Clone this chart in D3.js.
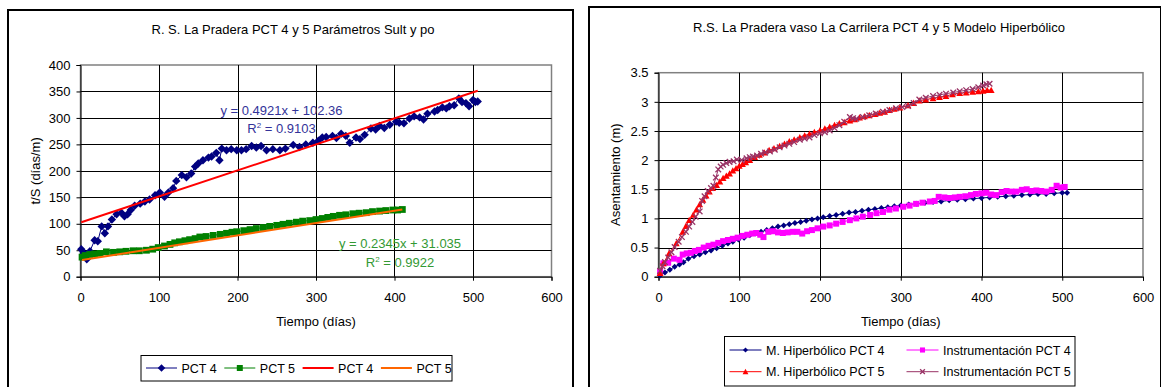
<!DOCTYPE html>
<html>
<head>
<meta charset="utf-8">
<script src="https://cdn.jsdelivr.net/npm/d3@7"></script>
<style>
  body { margin: 0; background: #fff; }
  svg { display: block; font-family: "Liberation Sans", Arial, sans-serif; }
</style>
</head>
<body>
<svg id="chart" width="1161" height="387"></svg>
<script>
// ---- left chart: t/S vs time ----
const daysPct4 = [1, 4, 8, 12, 18, 22, 27, 31, 35, 40, 46, 52, 56, 60, 64, 69, 76, 82, 88, 95,
  101, 107, 112, 118, 122, 129, 135, 141, 146, 150, 156, 163, 167, 173, 177, 180, 186, 192, 199, 205,
  211, 218, 224, 230, 237, 245, 254, 261, 271, 279, 287, 296, 303, 308, 313, 321, 326, 332, 338, 343,
  351, 356, 362, 370, 376, 381, 387, 394, 402, 406, 412, 419, 425, 432, 437, 442, 451, 455, 461, 466,
  470, 476, 482, 486, 491, 495, 500, 503, 506];
const tsPct4 = [52, 45, 33, 48, 69, 67, 95, 82, 95, 108, 118, 121, 114, 118, 126, 134, 138, 142, 146, 154,
  159, 151, 159, 167, 181, 192, 188, 195, 208, 214, 220, 225, 227, 234, 220, 242, 239, 241, 239, 239,
  241, 247, 244, 247, 239, 241, 239, 242, 249, 245, 250, 253, 257, 263, 264, 266, 262, 270, 266, 253,
  263, 260, 268, 280, 278, 285, 281, 287, 293, 291, 290, 299, 303, 301, 297, 308, 312, 315, 320, 318,
  322, 324, 337, 330, 328, 322, 334, 330, 331];

const daysPct5 = [2, 6, 12, 18, 25, 33, 42, 50, 58, 67, 75, 84, 92, 99, 107, 114, 120, 126, 133, 139,
  146, 152, 160, 169, 178, 186, 193, 199, 208, 216, 224, 233, 241, 250, 258, 266, 275, 283, 292, 300,
  308, 315, 322, 330, 338, 347, 355, 364, 372, 381, 389, 398, 404, 410];
const tsPct5 = [37, 40, 42, 43, 44, 47, 46, 47, 48, 49, 49, 50, 52, 55, 58, 61, 64, 66, 68, 70,
  72, 75, 76, 78, 80, 82, 84, 85, 87, 89, 91, 93, 95, 97, 99, 101, 103, 105, 106, 108,
  110, 112, 114, 116, 117, 119, 120, 121, 123, 124, 125, 126, 126, 127];

// linear trend lines as printed on the chart
const trendPct4 = { slope: 0.4921, intercept: 102.36, from: 1, to: 506 };
const trendPct5 = { slope: 0.2345, intercept: 31.035, from: 2, to: 410 };

const xTicks = [0, 100, 200, 300, 400, 500, 600];
const yTicksLeft = [0, 50, 100, 150, 200, 250, 300, 350, 400];

// ---- right chart: settlement vs time ----
const daysHip4 = [2, 8, 14, 20, 26, 31, 37, 44, 51, 58, 65, 72, 79, 86, 92, 99, 106, 113, 120, 127,
  134, 141, 148, 155, 162, 169, 176, 183, 190, 197, 204, 212, 220, 228, 236, 244, 252, 260, 268, 276,
  284, 292, 300, 310, 320, 330, 340, 350, 360, 370, 380, 390, 400, 410, 420, 430, 440, 450, 460, 470,
  480, 490, 500, 506];
const sHip4 = [0.02, 0.07, 0.12, 0.17, 0.21, 0.25, 0.31, 0.35, 0.38, 0.42, 0.45, 0.49, 0.53, 0.57, 0.60, 0.64, 0.67, 0.71, 0.74, 0.77,
  0.80, 0.83, 0.86, 0.88, 0.90, 0.92, 0.94, 0.96, 0.98, 1.00, 1.02, 1.04, 1.06, 1.08, 1.10, 1.11, 1.13, 1.15, 1.16, 1.18,
  1.19, 1.21, 1.22, 1.24, 1.25, 1.27, 1.28, 1.29, 1.31, 1.32, 1.33, 1.34, 1.35, 1.36, 1.37, 1.38, 1.39, 1.40, 1.41, 1.42,
  1.42, 1.43, 1.44, 1.44];

const daysInst4 = [2, 6, 12, 19, 26, 30, 35, 40, 45, 50, 56, 62, 68, 74, 80, 86, 92, 98, 104, 110,
  116, 121, 126, 130, 136, 142, 148, 154, 160, 166, 172, 178, 184, 190, 197, 204, 212, 220, 228, 237,
  245, 253, 262, 270, 278, 286, 294, 303, 311, 319, 327, 336, 342, 347, 354, 360, 367, 373, 380, 387,
  393, 400, 406, 412, 418, 425, 431, 437, 443, 450, 456, 462, 468, 474, 480, 487, 493, 498, 503];
const sInst4 = [0.08, 0.23, 0.24, 0.31, 0.29, 0.38, 0.40, 0.41, 0.44, 0.46, 0.50, 0.53, 0.55, 0.58, 0.61, 0.63, 0.65, 0.67, 0.70, 0.72,
  0.74, 0.75, 0.72, 0.68, 0.77, 0.78, 0.76, 0.75, 0.76, 0.77, 0.77, 0.74, 0.78, 0.80, 0.83, 0.86, 0.88, 0.91, 0.94, 0.97,
  1.00, 1.03, 1.06, 1.09, 1.11, 1.15, 1.17, 1.20, 1.22, 1.25, 1.27, 1.29, 1.30, 1.37, 1.36, 1.35, 1.36, 1.37, 1.38, 1.40,
  1.42, 1.43, 1.44, 1.41, 1.40, 1.45, 1.47, 1.46, 1.46, 1.49, 1.50, 1.47, 1.48, 1.47, 1.46, 1.49, 1.56, 1.53, 1.54];

const daysHip5 = [2, 6, 13, 22, 30, 34, 38, 43, 47, 51, 55, 59, 63, 67, 72, 76, 80, 84, 88, 92,
  96, 100, 104, 108, 113, 119, 125, 131, 137, 143, 150, 156, 162, 168, 175, 181, 187, 193, 200, 206,
  212, 218, 224, 230, 237, 243, 249, 255, 261, 268, 274, 280, 286, 292, 299, 309, 316, 323, 331, 340,
  348, 356, 364, 373, 381, 389, 396, 402, 407, 412];
const sHip5 = [0.06, 0.23, 0.40, 0.57, 0.77, 0.87, 0.97, 1.06, 1.15, 1.24, 1.32, 1.39, 1.46, 1.52, 1.57, 1.63, 1.69, 1.73, 1.77, 1.82,
  1.86, 1.90, 1.93, 1.96, 2.00, 2.05, 2.09, 2.13, 2.17, 2.20, 2.24, 2.28, 2.32, 2.35, 2.39, 2.42, 2.45, 2.48, 2.51, 2.54,
  2.57, 2.60, 2.63, 2.65, 2.68, 2.70, 2.73, 2.75, 2.77, 2.79, 2.81, 2.83, 2.86, 2.88, 2.90, 2.94, 2.98, 3.02, 3.04, 3.06,
  3.08, 3.10, 3.13, 3.15, 3.16, 3.17, 3.18, 3.19, 3.20, 3.20];

const daysInst5 = [2, 5, 8, 12, 16, 20, 25, 29, 34, 38, 42, 46, 51, 54, 57, 61, 65, 68, 71, 74,
  77, 80, 84, 88, 93, 97, 103, 109, 113, 117, 122, 127, 132, 138, 144, 150, 156, 162, 168, 175,
  181, 187, 193, 200, 206, 212, 218, 224, 230, 237, 241, 245, 253, 261, 269, 278, 286, 294, 302, 309,
  316, 323, 331, 340, 348, 356, 365, 373, 381, 389, 396, 402, 406, 410];
const sInst5 = [0.10, 0.18, 0.25, 0.33, 0.42, 0.51, 0.60, 0.68, 0.77, 0.86, 0.94, 1.03, 1.12, 1.30, 1.38, 1.47, 1.52, 1.56, 1.70, 1.84,
  1.89, 1.92, 1.95, 1.97, 1.98, 2.01, 2.00, 2.03, 2.05, 2.06, 2.08, 2.11, 2.13, 2.15, 2.18, 2.22, 2.25, 2.28, 2.31, 2.35,
  2.37, 2.39, 2.43, 2.46, 2.48, 2.51, 2.55, 2.60, 2.66, 2.74, 2.72, 2.71, 2.74, 2.77, 2.80, 2.83, 2.86, 2.89, 2.91, 2.93,
  2.98, 3.04, 3.07, 3.10, 3.12, 3.14, 3.16, 3.18, 3.20, 3.22, 3.25, 3.28, 3.30, 3.31];

const yTicksRight = [0, 0.5, 1, 1.5, 2, 2.5, 3, 3.5];

const svg = d3.select('#chart');
svg.append('rect').attr('width', 1161).attr('height', 387).attr('fill', '#fff');

const shapes = {
  diamond: r => `M0,${-r}L${r},0L0,${r}L${-r},0Z`,
  square: r => `M${-r},${-r}h${2 * r}v${2 * r}h${-2 * r}Z`,
  triangle: r => `M0,${-r}L${r},${r * 0.85}L${-r},${r * 0.85}Z`,
  cross: r => `M${-r},${-r}L${r},${r}M${r},${-r}L${-r},${r}`
};

function marker(sel, shape, r, color) {
  const hollow = shape === 'cross';
  return sel.attr('d', shapes[shape](r))
    .attr('fill', hollow ? 'none' : color)
    .attr('stroke', hollow ? color : 'none')
    .attr('stroke-width', 1.3);
}

// frame, grid, axes and titles of one chart
function panel(o) {
  svg.append('rect')
    .attr('x', o.box[0]).attr('y', o.box[1])
    .attr('width', o.box[2]).attr('height', o.box[3])
    .attr('fill', '#fff').attr('stroke', '#000').attr('stroke-width', 2);

  const x = d3.scaleLinear().domain([0, 600]).range([o.left, o.right]);
  const y = d3.scaleLinear().domain([0, o.yMax]).range([o.bottom, o.top]);
  const g = svg.append('g');

  g.append('rect')
    .attr('x', o.left).attr('y', o.top)
    .attr('width', o.right - o.left).attr('height', o.bottom - o.top)
    .attr('fill', '#fff').attr('stroke', '#808080').attr('stroke-width', 1.5);

  // grid lines
  g.append('g').selectAll('line').data(o.yTicks.slice(1, -1)).join('line')
    .attr('x1', o.left).attr('x2', o.right)
    .attr('y1', d => Math.round(y(d)) + 0.5).attr('y2', d => Math.round(y(d)) + 0.5)
    .attr('stroke', '#000');
  g.append('g').selectAll('line').data(xTicks.slice(1, -1)).join('line')
    .attr('y1', o.top).attr('y2', o.bottom)
    .attr('x1', d => Math.round(x(d)) + 0.5).attr('x2', d => Math.round(x(d)) + 0.5)
    .attr('stroke', '#000');

  const xa = g.append('g').attr('transform', `translate(0,${o.bottom})`)
    .call(d3.axisBottom(x).tickValues(xTicks).tickSize(4).tickPadding(12).tickFormat(d3.format('d')));
  const ya = g.append('g').attr('transform', `translate(${o.left},0)`)
    .call(d3.axisLeft(y).tickValues(o.yTicks).tickSize(4).tickPadding(6).tickFormat(d => String(d)));
  [xa, ya].forEach(a => {
    a.selectAll('path, line').attr('stroke', '#000');
    a.selectAll('text').attr('font-size', 13).attr('fill', '#000')
      .attr('font-family', '"Liberation Sans", Arial, sans-serif');
  });

  svg.append('text').attr('x', o.titleX).attr('y', o.titleY)
    .attr('text-anchor', 'middle').attr('font-size', 13).text(o.title);
  svg.append('text').attr('x', (o.left + o.right) / 2).attr('y', 326)
    .attr('text-anchor', 'middle').attr('font-size', 13).text('Tiempo (días)');
  svg.append('text')
    .attr('transform', `translate(${o.yLabelX},${(o.top + o.bottom) / 2}) rotate(-90)`)
    .attr('text-anchor', 'middle').attr('dy', '0.35em').attr('font-size', 13).text(o.yLabel);

  return { g, x, y };
}

function series(p, days, vals, s) {
  const pts = days.map((d, i) => [d, vals[i]]);
  p.g.append('path').datum(pts)
    .attr('fill', 'none').attr('stroke', s.color).attr('stroke-width', 1)
    .attr('d', d3.line().x(d => p.x(d[0])).y(d => p.y(d[1])));
  p.g.append('g').selectAll('path').data(pts).join('path')
    .attr('transform', d => `translate(${p.x(d[0])},${p.y(d[1])})`)
    .call(sel => marker(sel, s.shape, s.r, s.color));
}

function trend(p, t, color) {
  p.g.append('line')
    .attr('x1', p.x(t.from)).attr('y1', p.y(t.slope * t.from + t.intercept))
    .attr('x2', p.x(t.to)).attr('y2', p.y(t.slope * t.to + t.intercept))
    .attr('stroke', color).attr('stroke-width', 2);
}

function equation(cx, y, t, color) {
  const fmt = `y = ${t.slope}x + ${t.intercept}`;
  svg.append('text').attr('x', cx).attr('y', y).attr('text-anchor', 'middle')
    .attr('font-size', 13).attr('fill', color).text(fmt);
}
function r2(cx, y, val, color) {
  const t = svg.append('text').attr('x', cx).attr('y', y).attr('text-anchor', 'middle')
    .attr('font-size', 13).attr('fill', color);
  t.append('tspan').text('R');
  t.append('tspan').attr('font-size', 8).attr('dy', -5).text('2');
  t.append('tspan').attr('dy', 5).text(` = ${val}`);
}

// ---------- left ----------
const left = panel({
  box: [8, 10, 565, 400],
  left: 80.5, right: 551.5, top: 65, bottom: 276.7, yMax: 400, yTicks: yTicksLeft,
  title: 'R. S. La Pradera PCT 4 y 5 Parámetros Sult y po', titleX: 293, titleY: 33.5,
  yLabel: 't/S (días/m)', yLabelX: 35
});
series(left, daysPct4, tsPct4, { color: '#000080', shape: 'diamond', r: 4.2 });
series(left, daysPct5, tsPct5, { color: '#008000', shape: 'square', r: 3.4 });
trend(left, trendPct4, '#ff0000');
trend(left, trendPct5, '#ff6600');
equation(281.5, 114.5, trendPct4, '#333399');
r2(281.5, 133, 0.9103, '#333399');
equation(400, 248, trendPct5, '#339933');
r2(400, 266.5, 0.9922, '#339933');

// legend (left)
const legL = svg.append('g');
legL.append('rect').attr('x', 141).attr('y', 355.5).attr('width', 311).attr('height', 25.5)
  .attr('fill', '#fff').attr('stroke', '#000');
[
  { label: 'PCT 4', color: '#000080', shape: 'diamond', r: 3.8 },
  { label: 'PCT 5', color: '#008000', shape: 'square', r: 3 },
  { label: 'PCT 4', color: '#ff0000', w: 2 },
  { label: 'PCT 5', color: '#ff6600', w: 2 }
].forEach((it, i) => {
  const x0 = 146 + i * 78.3, cy = 368;
  legL.append('line').attr('x1', x0).attr('x2', x0 + 31).attr('y1', cy).attr('y2', cy)
    .attr('stroke', it.color).attr('stroke-width', it.w || 1);
  if (it.shape) legL.append('path').attr('transform', `translate(${x0 + 15.5},${cy})`)
    .call(sel => marker(sel, it.shape, it.r, it.color));
  legL.append('text').attr('x', x0 + 35.5).attr('y', cy + 4.5).attr('font-size', 12.5).text(it.label);
});

// ---------- right ----------
const right = panel({
  box: [589, 7, 572, 400],
  left: 658.5, right: 1143, top: 72.7, bottom: 276.7, yMax: 3.5, yTicks: yTicksRight,
  title: 'R.S. La Pradera vaso La Carrilera PCT 4 y 5 Modelo Hiperbólico', titleX: 879, titleY: 31.8,
  yLabel: 'Asentamiento (m)', yLabelX: 615
});
const rightSeries = [
  { label: 'M. Hiperbólico PCT 4', days: daysHip4, vals: sHip4, color: '#000080', shape: 'diamond', r: 3 },
  { label: 'Instrumentación PCT 4', days: daysInst4, vals: sInst4, color: '#ff00ff', shape: 'square', r: 3 },
  { label: 'M. Hiperbólico PCT 5', days: daysHip5, vals: sHip5, color: '#ff0000', shape: 'triangle', r: 3.4 },
  { label: 'Instrumentación PCT 5', days: daysInst5, vals: sInst5, color: '#993366', shape: 'cross', r: 2.8 }
];
rightSeries.forEach(s => series(right, s.days, s.vals, s));

// legend (right)
const legR = svg.append('g');
legR.append('rect').attr('x', 724.5).attr('y', 336.5).attr('width', 350.5).attr('height', 49.5)
  .attr('fill', '#fff').attr('stroke', '#000');
rightSeries.forEach((s, i) => {
  const x0 = i % 2 === 0 ? 729.5 : 906.5;
  const cy = i < 2 ? 350 : 371.7;
  legR.append('line').attr('x1', x0).attr('x2', x0 + 32).attr('y1', cy).attr('y2', cy)
    .attr('stroke', s.color);
  legR.append('path').attr('transform', `translate(${x0 + 16},${cy})`)
    .call(sel => marker(sel, s.shape, s.r * 0.85, s.color));
  legR.append('text').attr('x', x0 + 36.5).attr('y', cy + 4.5).attr('font-size', 12.5).text(s.label);
});
</script>
</body>
</html>
